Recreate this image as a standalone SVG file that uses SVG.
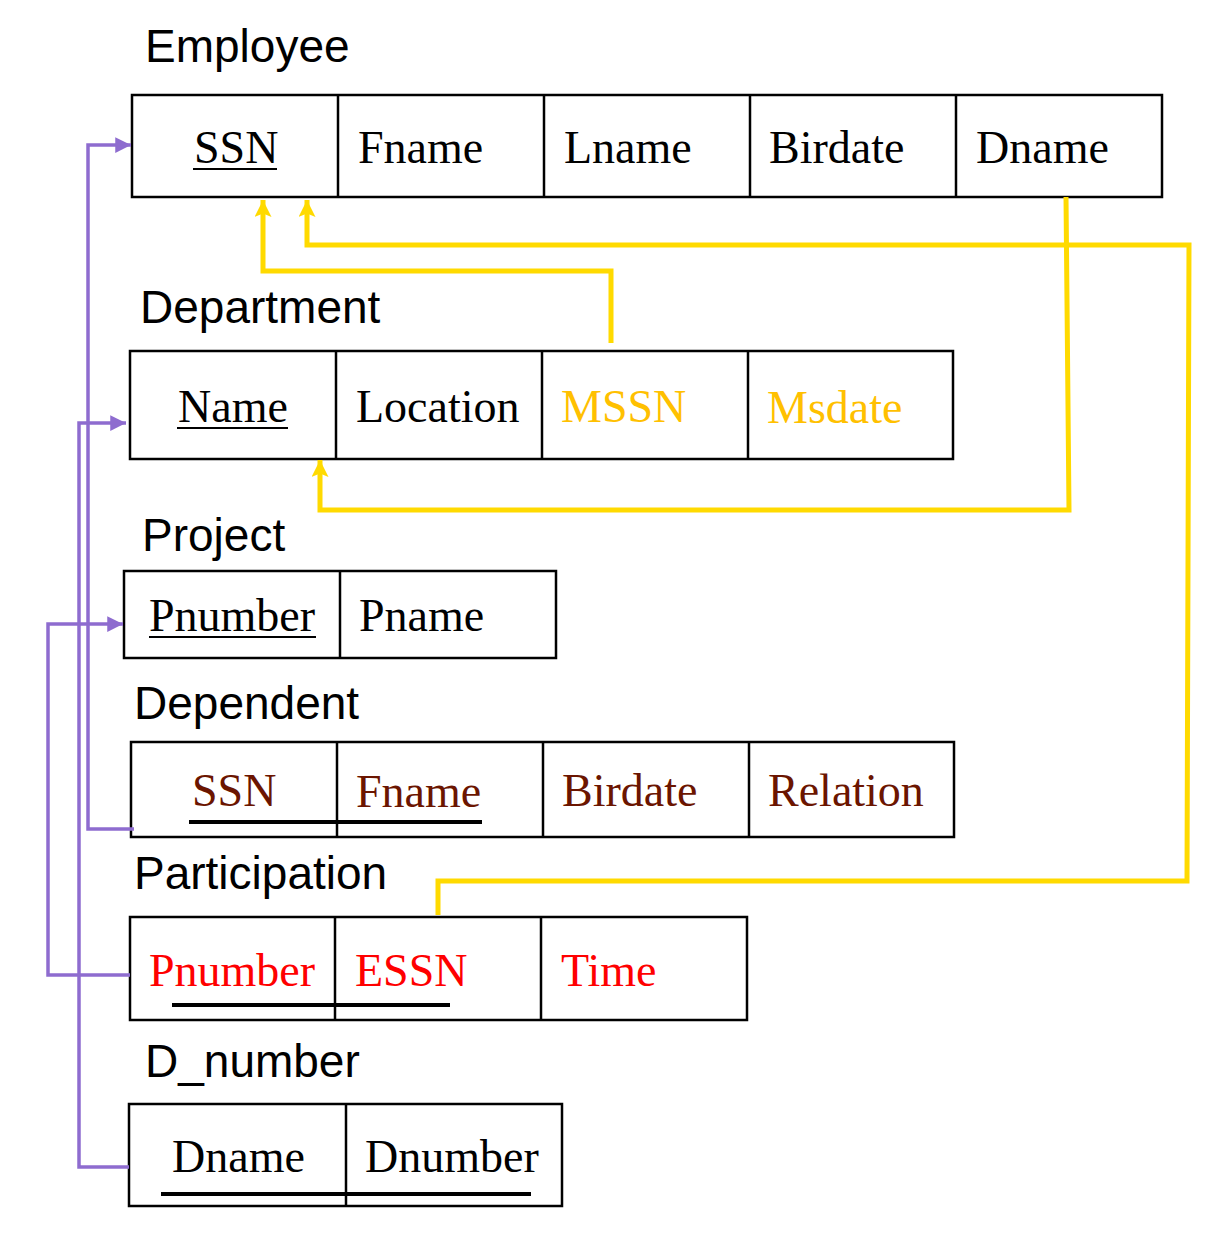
<svg xmlns="http://www.w3.org/2000/svg" width="1225" height="1237" viewBox="0 0 1225 1237">
<style>
.title{font-family:"Liberation Sans",Arial,sans-serif;font-size:46px;fill:#000}
.cell{font-family:"Liberation Serif","Times New Roman",serif;font-size:46px;fill:#000}
.box{fill:#fff;stroke:#000;stroke-width:2.5}
.sep{stroke:#000;stroke-width:2.5}
.ul{stroke:#000;stroke-width:2}
.ulk{stroke:#000;stroke-width:4}
.gold{fill:#FFC000}
.brown{fill:#6B1500}
.red{fill:#FF0000}
.pl{fill:none;stroke:#8E6CCF;stroke-width:3.5}
.yl{fill:none;stroke:#FFDA00;stroke-width:5}
</style>
<defs>
<marker id="pa" viewBox="0 0 10 10" refX="10" refY="5" markerWidth="4.5" markerHeight="4.5" markerUnits="strokeWidth" orient="auto">
<path d="M0,0 L10,5 L0,10 z" fill="#8E6CCF"/>
</marker>
<marker id="ya" viewBox="0 0 10 10" refX="10" refY="5" markerWidth="3.4" markerHeight="3.4" markerUnits="strokeWidth" orient="auto">
<path d="M0,0 L10,5 L0,10 L2,5 z" fill="#FFDA00"/>
</marker>
</defs>
<rect width="1225" height="1237" fill="#fff"/>

<g id="employee">
<text class="title" x="145" y="62">Employee</text>
<rect class="box" x="132" y="95" width="1030" height="102"/>
<line class="sep" x1="338" y1="95" x2="338" y2="197"/>
<line class="sep" x1="544" y1="95" x2="544" y2="197"/>
<line class="sep" x1="750" y1="95" x2="750" y2="197"/>
<line class="sep" x1="956" y1="95" x2="956" y2="197"/>
<text class="cell" x="194" y="163">SSN</text>
<line class="ul" x1="193" y1="169" x2="277" y2="169"/>
<text class="cell" x="358" y="163">Fname</text>
<text class="cell" x="564" y="163">Lname</text>
<text class="cell" x="769" y="163">Birdate</text>
<text class="cell" x="976" y="163">Dname</text>
</g>

<g id="department">
<text class="title" x="140" y="323">Department</text>
<rect class="box" x="130" y="351" width="823" height="108"/>
<line class="sep" x1="336" y1="351" x2="336" y2="459"/>
<line class="sep" x1="542" y1="351" x2="542" y2="459"/>
<line class="sep" x1="748" y1="351" x2="748" y2="459"/>
<text class="cell" x="178" y="422">Name</text>
<line class="ul" x1="177" y1="428" x2="288" y2="428"/>
<text class="cell" x="356" y="422">Location</text>
<text class="cell gold" x="561" y="422">MSSN</text>
<text class="cell gold" x="767" y="423">Msdate</text>
</g>

<g id="project">
<text class="title" x="142" y="551">Project</text>
<rect class="box" x="124" y="571" width="432" height="87"/>
<line class="sep" x1="340" y1="571" x2="340" y2="658"/>
<text class="cell" x="149" y="631">Pnumber</text>
<line class="ul" x1="149" y1="637" x2="316" y2="637"/>
<text class="cell" x="359" y="631">Pname</text>
</g>

<g id="dependent">
<text class="title" x="134" y="719">Dependent</text>
<rect class="box" x="131" y="742" width="823" height="95"/>
<line class="sep" x1="337" y1="742" x2="337" y2="837"/>
<line class="sep" x1="543" y1="742" x2="543" y2="837"/>
<line class="sep" x1="749" y1="742" x2="749" y2="837"/>
<text class="cell brown" x="192" y="806">SSN</text>
<text class="cell brown" x="356" y="807">Fname</text>
<text class="cell brown" x="562" y="806">Birdate</text>
<text class="cell brown" x="768" y="806">Relation</text>
<line class="ulk" x1="189" y1="822" x2="482" y2="822"/>
</g>

<g id="participation">
<text class="title" x="134" y="889">Participation</text>
<rect class="box" x="130" y="917" width="617" height="103"/>
<line class="sep" x1="335" y1="917" x2="335" y2="1020"/>
<line class="sep" x1="541" y1="917" x2="541" y2="1020"/>
<text class="cell red" x="149" y="986">Pnumber</text>
<text class="cell red" x="355" y="986">ESSN</text>
<text class="cell red" x="561" y="986">Time</text>
<line class="ulk" x1="172" y1="1005" x2="450" y2="1005"/>
</g>

<g id="d_number">
<text class="title" x="145" y="1077">D_number</text>
<rect class="box" x="129" y="1104" width="433" height="102"/>
<line class="sep" x1="346" y1="1104" x2="346" y2="1206"/>
<text class="cell" x="172" y="1172">Dname</text>
<text class="cell" x="365" y="1172">Dnumber</text>
<line class="ulk" x1="161" y1="1194" x2="531" y2="1194"/>
</g>

<g id="connectors">
<polyline class="pl" points="134,829 88,829 88,145 131,145" marker-end="url(#pa)"/>
<polyline class="pl" points="129,1167 79,1167 79,423 126,423" marker-end="url(#pa)"/>
<polyline class="pl" points="130,975 48,975 48,624 123,624" marker-end="url(#pa)"/>
<polyline class="yl" points="611,343 611,271 263,271 263,200" marker-end="url(#ya)"/>
<polyline class="yl" points="438,915 438,881 1187,881 1189,245 307,245 307,200" marker-end="url(#ya)"/>
<polyline class="yl" points="1066,197 1069,510 320,510 320,460" marker-end="url(#ya)"/>
</g>
</svg>
